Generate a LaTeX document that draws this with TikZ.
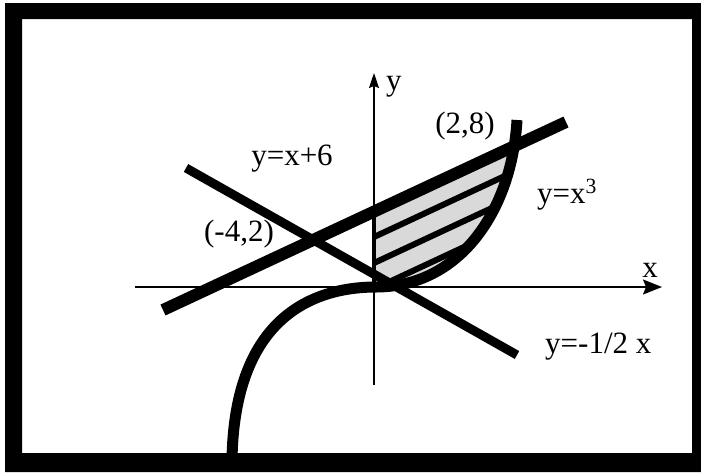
\documentclass[tikz,border=0pt]{standalone}
\usepackage{fontspec}
\setmainfont{Liberation Serif}
\usetikzlibrary{arrows.meta,calc}

\begin{document}
\begin{tikzpicture}[x=1pt,y=-1pt,
  lbl/.style={inner sep=0pt,font=\fontsize{31}{36}\selectfont}]
\useasboundingbox (0,0) rectangle (701,472);
\fill[even odd rule] (5,3) rectangle (701,472) (22,19) rectangle (692,453);
\coordinate (O) at (374,287);
\coordinate (P) at (517,120);
\begin{scope}
\clip (374,212) -- (566,122) -- (566,300) -- (374,300) -- cycle;
\clip (O) .. controls (460,288) and (512,210) .. (P) -- (374,120) -- cycle;
\fill[gray!30] (374,100) rectangle (570,300);
\draw[line width=6] (374,237) -- +(200,-93.3);
\draw[line width=6] (374,263) -- +(200,-93.3);
\draw[line width=6] (374,289) -- +(200,-93.3);
\end{scope}
\draw[line width=1.5, -{Stealth[length=19,width=15,inset=3]}] (135,287) -- (662,287);
\draw[line width=1.5, -{Stealth[length=15,width=10,inset=2]}] (374,385) -- (374,73);
\draw[line width=4] (374,212) -- (O);
\draw[line width=12] (163,310) -- (566,122);
\draw[line width=9] (186,168) -- (517,355);
\draw[line width=11] (232,460) .. controls (234,330) and (300,288) .. (O)
  .. controls (460,288) and (512,210) .. (P);
\node[lbl, anchor=base] (p28) at (465,133) {(2,8)};
\node[lbl, anchor=base] (l1) at (292,165) {y=x+6};
\node[lbl, anchor=base] (p42) at (239,241) {(-4,2)};
\node[lbl, anchor=base west] (cub) at (537,203) {y=x\textsuperscript{3}};
\node[lbl, anchor=base west] (l2) at (545,353) {y=-1/2 x};
\node[lbl, anchor=base] (xl) at (650,277) {x};
\node[lbl, anchor=base west] (yl) at (386,90) {y};
\end{tikzpicture}
\end{document}
